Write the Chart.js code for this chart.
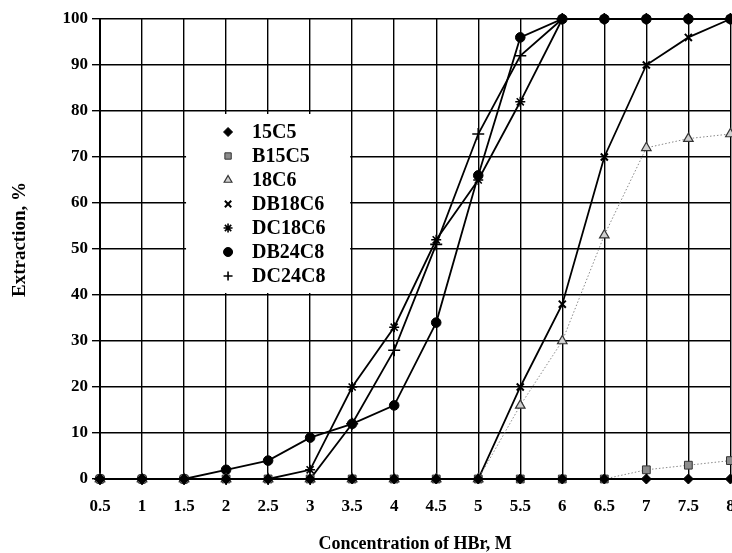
<!DOCTYPE html>
<html>
<head>
<meta charset="utf-8">
<script src="https://cdn.jsdelivr.net/npm/chart.js@4.4.0/dist/chart.umd.min.js"></script>
<style>
  html, body { margin: 0; padding: 0; background: #fff; overflow: hidden; }
</style>
</head>
<body>
<canvas id="extractionChart" width="738" height="553"></canvas>
<script>
// HBr concentration, M
const concentrations = [0.5, 1, 1.5, 2, 2.5, 3, 3.5, 4, 4.5, 5, 5.5, 6, 6.5, 7, 7.5, 8];

// Extraction, % per crown ether
const ext15C5   = [0, 0, 0, 0, 0, 0, 0, 0, 0, 0, 0, 0, 0, 0, 0, 0];
const extB15C5  = [0, 0, 0, 0, 0, 0, 0, 0, 0, 0, 0, 0, 0, 2, 3, 4];
const ext18C6   = [0, 0, 0, 0, 0, 0, 0, 0, 0, 0, 16, 30, 53, 72, 74, 75];
const extDB18C6 = [0, 0, 0, 0, 0, 0, 0, 0, 0, 0, 20, 38, 70, 90, 96, 100];
const extDC18C6 = [0, 0, 0, 0, 0, 2, 20, 33, 52, 65, 82, 100, 100, 100, 100, 100];
const extDB24C8 = [0, 0, 0, 2, 4, 9, 12, 16, 34, 66, 96, 100, 100, 100, 100, 100];
const extDC24C8 = [0, 0, 0, 0, 0, 0, 12, 28, 51, 75, 92, 100, 100, 100, 100, 100];

const seriesLabels = ['15C5', 'B15C5', '18C6', 'DB18C6', 'DC18C6', 'DB24C8', 'DC24C8'];
const seriesValues = [ext15C5, extB15C5, ext18C6, extDB18C6, extDC18C6, extDB24C8, extDC24C8];

const serif = '"Liberation Serif", "Times New Roman", serif';

const styles = [
    { pointStyle: 'rectRot', pointRadius: 5, pointBackgroundColor: '#000', pointBorderColor: '#000', pointBorderWidth: 1, borderColor: '#000', borderWidth: 2 },
    { pointStyle: 'rect', pointRadius: 5.5, pointBackgroundColor: '#8c8c8c', pointBorderColor: '#333', pointBorderWidth: 1, borderColor: '#888', borderWidth: 1, borderDash: [1.5, 2] },
    { pointStyle: 'triangle', pointRadius: 5.5, pointBackgroundColor: '#d0d0d0', pointBorderColor: '#333', pointBorderWidth: 1.2, borderColor: '#888', borderWidth: 1, borderDash: [1.5, 2] },
    { pointStyle: 'crossRot', pointRadius: 5, pointBackgroundColor: '#000', pointBorderColor: '#000', pointBorderWidth: 2, borderColor: '#000', borderWidth: 1.8 },
    { pointStyle: 'star', pointRadius: 5, pointBackgroundColor: '#000', pointBorderColor: '#000', pointBorderWidth: 1.6, borderColor: '#000', borderWidth: 1.8 },
    { pointStyle: 'circle', pointRadius: 4.8, pointBackgroundColor: '#000', pointBorderColor: '#000', pointBorderWidth: 1, borderColor: '#000', borderWidth: 1.8 },
    { pointStyle: 'cross', pointRadius: 6, pointBackgroundColor: '#000', pointBorderColor: '#000', pointBorderWidth: 1.6, borderColor: '#000', borderWidth: 1.8 },
];

const datasets = seriesLabels.map((label, i) => Object.assign({
    label: label,
    data: concentrations.map((c, j) => ({ x: c, y: seriesValues[i][j] })),
    fill: false,
    tension: 0,
    clip: false,
}, styles[i]));

// legend drawn inside the plot, over the grid
const insideLegend = {
    id: 'insideLegend',
    afterDraw(chart) {
        const { ctx, scales: { x, y } } = chart;
        const left = x.getPixelForValue(1.5) + 2;
        const right = x.getPixelForValue(3.5) - 2;
        const top = y.getPixelForValue(80) + 3;
        const bottom = y.getPixelForValue(40) - 2;
        ctx.save();
        ctx.fillStyle = '#fff';
        ctx.fillRect(left, top, right - left, bottom - top);
        ctx.font = 'bold 20px ' + serif;
        ctx.textBaseline = 'middle';
        chart.data.datasets.forEach((ds, i) => {
            const rowY = top + 18 + i * 24;
            ctx.fillStyle = ds.pointBackgroundColor;
            ctx.strokeStyle = ds.pointBorderColor;
            ctx.lineWidth = ds.pointBorderWidth;
            Chart.helpers.drawPoint(ctx, {
                pointStyle: ds.pointStyle,
                radius: Math.min(ds.pointRadius, 4.5),
                rotation: 0,
                borderWidth: ds.pointBorderWidth,
            }, left + 42, rowY);
            ctx.fillStyle = '#000';
            ctx.fillText(ds.label, left + 66, rowY + 1);
        });
        ctx.restore();
    }
};

new Chart(document.getElementById('extractionChart').getContext('2d'), {
    type: 'line',
    data: { datasets: datasets },
    plugins: [insideLegend],
    options: {
        responsive: false,
        animation: false,
        devicePixelRatio: 1,
        events: [],
        layout: { padding: { top: 19, right: 2, bottom: 0, left: 0 } },
        plugins: {
            legend: { display: false },
            tooltip: { enabled: false },
        },
        scales: {
            x: {
                type: 'linear',
                min: 0.5,
                max: 8,
                afterFit: (s) => { s.height = 74; s.paddingLeft = 0; s.paddingRight = 0; },
                ticks: {
                    stepSize: 0.5,
                    padding: 17,
                    color: '#000',
                    font: { family: serif, size: 17, weight: 'bold' },
                    maxRotation: 0,
                    autoSkip: false,
                    callback: (value) => String(value),
                },
                grid: { color: '#000', lineWidth: 1.4, drawTicks: false },
                border: { color: '#000', width: 2 },
                title: {
                    display: true,
                    text: 'Concentration of HBr, M',
                    color: '#000',
                    font: { family: serif, size: 18, weight: 'bold', lineHeight: 1 },
                    padding: { top: 0, bottom: 0 },
                },
            },
            y: {
                min: 0,
                max: 100,
                afterFit: (s) => { s.width = 100; s.paddingTop = 0; s.paddingBottom = 0; },
                ticks: {
                    stepSize: 10,
                    padding: 4,
                    color: '#000',
                    font: { family: serif, size: 17, weight: 'bold' },
                },
                grid: { color: '#000', lineWidth: 1.4, tickLength: 8 },
                border: { color: '#000', width: 2 },
                title: {
                    display: true,
                    // leading spaces nudge the rotated title up a little
                    text: '    Extraction, %',
                    color: '#000',
                    font: { family: serif, size: 19, weight: 'bold' },
                    padding: { top: 9, bottom: 0 },
                },
            },
        },
    },
});
</script>
</body>
</html>
